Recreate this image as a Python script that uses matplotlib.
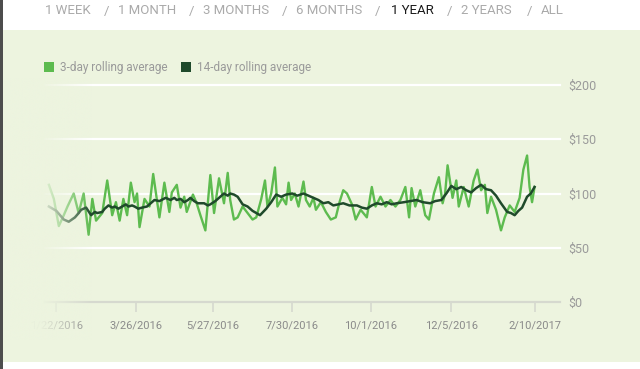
import numpy as np
import pandas as pd
import matplotlib
matplotlib.use('Agg')
from matplotlib import pyplot as plt
from matplotlib.patches import Rectangle

# 3-day and 14-day rolling average prices
# days are counted from 2016-01-01
days_3d = [15, 19, 23, 27, 30, 35, 39, 43, 47, 50, 53, 58, 62, 66, 69, 72, 75, 78, 81, 84,
           86, 88, 92, 96, 99, 104, 108, 112, 114, 118, 121, 124, 126, 131, 134, 137, 141, 145, 148, 152,
           156, 159, 161, 164, 167, 171, 175, 179, 182, 186, 189, 191, 194, 197, 199, 203, 206, 208, 210, 213,
           216, 220, 222, 225, 228, 230, 234, 238, 242, 246, 249, 252, 255, 259, 262, 266, 271, 275, 278, 282,
           286, 290, 294, 298, 302, 305, 307, 310, 314, 318, 321, 325, 329, 332, 334, 336, 340, 343, 345, 349,
           353, 357, 360, 363, 366, 368, 371, 375, 379, 382, 386, 390, 394, 397, 400, 402, 404, 406]
vals_3d = [108, 95, 70, 80, 88, 100, 82, 100, 62, 95, 75, 82, 112, 80, 92, 75, 95, 80, 110, 92,
           100, 69, 95, 88, 118, 78, 110, 83, 101, 108, 87, 97, 83, 99, 91, 80, 66, 117, 82, 114,
           91, 119, 94, 76, 78, 88, 82, 76, 78, 95, 112, 88, 100, 124, 88, 96, 90, 110, 94, 100,
           88, 111, 94, 88, 96, 85, 92, 83, 76, 78, 92, 103, 100, 90, 76, 85, 78, 106, 88, 97,
           88, 94, 88, 94, 106, 78, 105, 88, 103, 80, 76, 100, 115, 91, 100, 126, 96, 112, 88, 106,
           88, 112, 122, 103, 108, 82, 97, 85, 66, 78, 89, 83, 96, 122, 135, 106, 92, 106]

days_14d = [15, 18, 21, 24, 27, 31, 36, 39, 41, 45, 49, 52, 54, 58, 60, 63, 66, 68, 71, 74,
            77, 79, 82, 84, 87, 90, 94, 97, 100, 104, 109, 113, 116, 118, 121, 124, 127, 129, 132, 135,
            140, 143, 145, 149, 152, 156, 159, 161, 164, 167, 171, 175, 179, 182, 185, 190, 194, 198, 202, 206,
            211, 215, 220, 224, 228, 232, 236, 240, 244, 248, 252, 257, 263, 267, 271, 275, 279, 283, 287, 291,
            295, 301, 306, 311, 316, 322, 326, 331, 335, 339, 343, 347, 351, 355, 359, 363, 367, 371, 375, 379,
            384, 387, 390, 393, 396, 400, 403, 406]
vals_14d = [88, 86, 84, 80, 76, 74, 78, 82, 85, 87, 80, 83, 82, 83, 86, 89, 87, 88, 86, 88,
            90, 88, 89, 88, 86, 87, 88, 91, 94, 93, 96, 94, 96, 94, 95, 92, 94, 96, 93, 91,
            91, 89, 90, 93, 96, 100, 98, 100, 99, 97, 90, 88, 84, 82, 80, 86, 92, 99, 97, 99,
            100, 98, 100, 98, 96, 94, 91, 92, 89, 90, 91, 89, 89, 87, 86, 89, 91, 90, 92, 90,
            91, 92, 93, 94, 92, 91, 93, 94, 100, 107, 104, 106, 103, 101, 105, 108, 104, 103, 98, 91,
            83, 82, 80, 84, 87, 97, 100, 106]

tick_dates = ['2016-01-22', '2016-03-26', '2016-05-27', '2016-07-30', '2016-10-01', '2016-12-05', '2017-02-10']
tick_labels = ['1/22/2016', '3/26/2016', '5/27/2016', '7/30/2016', '10/1/2016', '12/5/2016', '2/10/2017']
y_ticks = [0, 50, 100, 150, 200]
y_labels = ['$0', '$50', '$100', '$150', '$200']
tabs = ['1 WEEK', '/', '1 MONTH', '/', '3 MONTHS', '/', '6 MONTHS', '/', '1 YEAR', '/', '2 YEARS', '/', 'ALL']
tab_x = [45, 104, 118, 189, 203, 282, 296, 375, 391, 447, 461, 527, 541]

plt.rcParams['font.family'] = ['Roboto', 'DejaVu Sans']

bg = '#edf4df'
light = '#5dbb4f'
dark = '#1f4a2b'
W, H = 640, 369

start = pd.Timestamp('2016-01-01')
d3 = start + pd.to_timedelta(days_3d, unit='D')
d14 = start + pd.to_timedelta(days_14d, unit='D')

fig = plt.figure(figsize=(6.4, 3.69), dpi=100)
fig.patch.set_facecolor('white')

# green panel and dark left strip
fig.patches.append(Rectangle((3 / W, 7 / H), 1, (362 - 30) / H, transform=fig.transFigure,
                             facecolor=bg, edgecolor='none', zorder=-10))
fig.patches.append(Rectangle((0, 0), 3 / W, 1, transform=fig.transFigure,
                             facecolor='#4d4d4d', edgecolor='none', zorder=-10))

ax = fig.add_axes([45 / W, (H - 302) / H, 515 / W, 217 / H], zorder=2)
ax.set_facecolor('none')
ax.plot(d3, vals_3d, color=light, lw=1.7, zorder=3)
ax.plot(d14, vals_14d, color=dark, lw=1.8, zorder=4)

ax.set_ylim(0, 200)
ax.set_xlim(start + pd.Timedelta(days=11.9), start + pd.Timedelta(days=426.5))
for v in y_ticks[1:]:
    ax.axhline(v, color='white', lw=1.6, zorder=1, clip_on=False)

for s in ['top', 'left', 'right']:
    ax.spines[s].set_visible(False)
ax.spines['bottom'].set_color('#d6d9cf')
ax.spines['bottom'].set_linewidth(1.6)

ax.set_xticks(pd.to_datetime(tick_dates))
ax.set_xticklabels(tick_labels, fontsize=8, color='#8a8a8a')
ax.tick_params(axis='x', length=7, width=1.2, color='#d6d9cf', pad=6)
ax.yaxis.tick_right()
ax.set_yticks(y_ticks)
ax.set_yticklabels(y_labels, fontsize=9, color='#9a9a9a')
ax.tick_params(axis='y', length=0, pad=6)

# legend
fig.patches.append(Rectangle((44 / W, (H - 72) / H), 10 / W, 10 / H, transform=fig.transFigure,
                             facecolor=light, edgecolor='none'))
fig.text(60 / W, (H - 67) / H, '3-day rolling average', fontsize=8.5, color='#9a9a9a', va='center')
fig.patches.append(Rectangle((181 / W, (H - 72) / H), 10 / W, 10 / H, transform=fig.transFigure,
                             facecolor=dark, edgecolor='none'))
fig.text(197 / W, (H - 67) / H, '14-day rolling average', fontsize=8.5, color='#9a9a9a', va='center')

# range tabs on top
for t, x in zip(tabs, tab_x):
    c = '#1a1a1a' if t == '1 YEAR' else '#aaaaaa'
    fig.text(x / W, (H - 11) / H, t, fontsize=9.5, color=c, va='center')

# fade on the left side of the plot
grad = np.zeros((1, 200, 4))
r, g, b = matplotlib.colors.to_rgb(bg)
xs = np.linspace(3, 95, 200)
grad[0, :, 0], grad[0, :, 1], grad[0, :, 2] = r, g, b
grad[0, :, 3] = np.clip((92 - xs) / 52, 0, 0.97)
ov = fig.add_axes([3 / W, (H - 340) / H, 92 / W, 262 / H], zorder=10)
ov.imshow(grad, aspect='auto', interpolation='bilinear')
ov.axis('off')

fig.savefig('out.png', dpi=100, facecolor='white')
